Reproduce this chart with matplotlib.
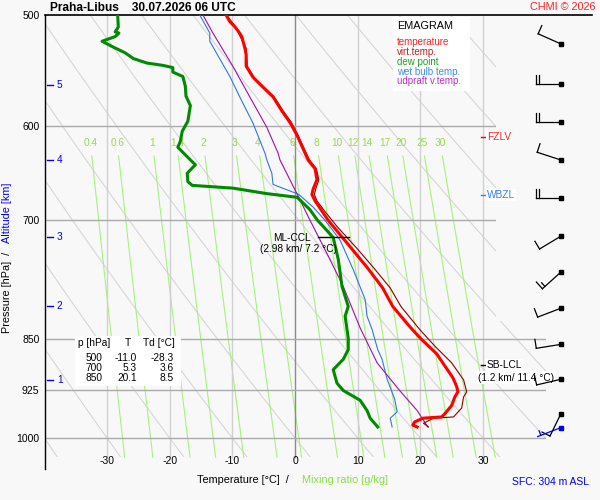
import numpy as np
import matplotlib
matplotlib.use('Agg')
import matplotlib.pyplot as plt
from matplotlib.patches import Polygon
from matplotlib.ticker import NullLocator, NullFormatter

plt.rcParams['font.family'] = ['Liberation Sans', 'DejaVu Sans']

# ---------------- data ----------------
station = "Praha-Libus"
date_str = "30.07.2026 06 UTC"

t_p = [500, 505.5, 509.7, 513.8, 518, 527.8, 533.5, 543.6, 546.4, 553.7, 562.8, 571.8, 585.1, 596.3,
       608.6, 615.6, 634.1, 643, 655, 665, 671, 678, 700, 707, 731, 756, 782, 806, 833, 850, 871,
       906, 919, 927, 935, 948, 961, 966, 968, 974, 979, 982]
t_T = [-11.0, -10.4, -9.6, -9.0, -8.5, -8.0, -7.8, -7.8, -7.5, -6.7, -5.1, -3.5, -2.1, -0.8,
       0.3, 0.8, 2.1, 3.2, 3.5, 2.9, 2.7, 3.2, 5.3, 6.1, 8.8, 11.5, 14.0, 15.6, 18.3, 20.1, 22.6,
       25.2, 25.8, 26.0, 25.5, 25.0, 23.9, 23.4, 20.4, 19.1, 18.8, 19.5]

tv_p = [500, 510, 528, 544, 554, 563, 572, 585, 596, 609, 616, 634, 643, 655, 665, 671, 678, 690,
        707, 733, 757, 782, 806, 837, 860, 884, 909, 927, 935, 952, 966, 968, 976, 982]
tv_T = [-10.9, -9.5, -7.8, -7.6, -6.5, -4.9, -3.3, -1.9, -0.6, 0.5, 1.0, 2.3, 3.4, 3.8, 3.3, 3.1,
        3.5, 4.8, 6.7, 9.9, 12.6, 15.2, 16.9, 19.9, 22.3, 25.0, 26.9, 27.4, 26.9, 26.6, 25.3, 22.1,
        20.5, 21.3]

td_p = [500, 510, 514, 515, 518, 522, 527, 532, 537, 541, 543, 545, 549, 553, 562, 571, 580, 595,
        605, 615, 621, 634, 639, 648, 657, 661, 664, 670, 674, 677, 688, 700, 707, 720, 746, 780,
        806, 819, 837, 850, 865, 879, 894, 914, 925, 940, 956, 968, 982]
td_T = [-28.3, -28.2, -28.7, -28.1, -28.7, -30.8, -29.0, -27.1, -25.8, -23.6, -21.1, -19.5, -19.5,
        -17.9, -17.5, -17.4, -16.7, -17.1, -18.0, -18.3, -18.7, -16.7, -15.9, -17.2, -17.1, -16.4,
        -9.9, -4.5, 0.3, 0.8, 2.4, 3.6, 4.5, 6.1, 6.9, 7.5, 8.5, 8.0, 8.3, 8.5, 8.5, 7.7, 6.1, 6.7,
        7.7, 10.4, 11.5, 12.0, 13.2]

wb_p = [500, 515, 522, 553, 572, 597, 627, 634, 648, 660, 670, 672, 685, 700, 723, 759, 797, 819,
        837, 865, 879, 908, 938, 958, 968, 982]
wb_T = [-15.2, -13.6, -13.6, -10.4, -8.8, -6.7, -4.8, -4.5, -3.7, -3.5, 0.3, 0.8, 2.9, 4.8, 7.2,
        9.3, 11.2, 11.5, 12.3, 13.2, 13.9, 14.7, 15.9, 16.3, 15.2, 15.5]

up_p = [500, 515, 544, 572, 601, 627, 634, 670, 677, 700, 739, 780, 835, 884, 894, 925, 956, 982]
up_T = [-14.7, -13.1, -9.9, -7.2, -4.5, -2.7, -2.4, 0.3, 0.8, 2.4, 5.1, 7.7, 10.4, 13.1, 14.0,
        16.7, 19.5, 21.2]

wind_p = [524.3, 559.8, 595.8, 634.1, 674.9, 718.3, 761.8, 808.3, 857.7, 908.2, 960.6]
wind_dir = [294, 270, 270, 288, 270, 239, 228, 249, 261, 257, 206]
wind_spd = [10, 20, 20, 10, 20, 10, 15, 10, 10, 10, 10]
sfc_wind_p, sfc_wind_dir, sfc_wind_spd = 983, 249, 5

alt_km = [1, 2, 3, 4, 5]
alt_p = [908.7, 806.0, 718.8, 634.1, 560.8]

p_ticks = [500, 600, 700, 850, 925, 1000]
t_ticks = [-30, -20, -10, 0, 10, 20, 30]
mix_ratios = [0.4, 0.6, 1, 1.4, 2, 3, 4, 6, 8, 10, 12, 14, 17, 20, 25, 30]

table_p = [500, 700, 850]
table_T = [-11.0, 5.3, 20.1]
table_Td = [-28.3, 3.6, 8.5]

fzlv_p = 611.0
wbzl_p = 671.5
ccl_p, ccl_T, ccl_km = 719.4, 7.2, 2.98
sblcl_p, sblcl_T, sblcl_km = 887.8, 11.4, 1.2
sfc_height = 304

# ---------------- figure ----------------
BG = '#f8f8f8'
W, H = 600, 500
fig = plt.figure(figsize=(6, 5), dpi=100, facecolor=BG)


def fx(x):
    return x / W


def fy(y):
    return 1 - y / H


ax = fig.add_axes([fx(45), fy(469), fx(592) - fx(45), fy(15) - fy(469)])
ax.set_facecolor(BG)
ax.set_yscale('log')
ax.set_xlim(-39.9, 47.4)
ax.set_ylim(1052, 500)
for s in ['right', 'bottom']:
    ax.spines[s].set_visible(False)
ax.spines['left'].set_color('black')
ax.spines['top'].set_color('black')
ax.spines['left'].set_linewidth(1.0)
ax.spines['top'].set_linewidth(1.2)
ax.yaxis.set_minor_locator(NullLocator())
ax.yaxis.set_minor_formatter(NullFormatter())
ax.set_yticks(p_ticks)
ax.set_yticklabels([str(p) for p in p_ticks])
ax.tick_params(axis='y', length=0, pad=4, labelsize=7.5)
ax.set_xticks([])

PBOT = 1032
clip = Polygon([(-40, 500), (32, 500), (32, 825), (40, 825), (40, PBOT), (-40, PBOT)],
               closed=True, transform=ax.transData, facecolor='none', edgecolor='none')

# dry adiabats
pp = np.geomspace(500, PBOT, 200)
for th in range(-40, 110, 10):
    T = (th + 273.15) * (pp / 1000.0) ** 0.2857 - 273.15
    ln, = ax.plot(T, pp, color='#d6d6d6', lw=0.8, zorder=1)
    ln.set_clip_path(clip)

# isotherms
for t in t_ticks:
    ax.plot([t, t], [500, PBOT], color='#8c8c8c' if t == 0 else '#d0d0d0',
            lw=1.0, zorder=1.5)
# isobars
for p in p_ticks[1:]:
    ln, = ax.plot([-40, 40], [p, p], color='#ababab', lw=1.0, zorder=1.5)
    ln.set_clip_path(clip)

# mixing ratio lines
pm = np.geomspace(630, PBOT, 100)
p_lab = 617.0
for w in mix_ratios:
    e = w * pm / (622.0 + w)
    a = np.log(e / 6.112)
    Td = 243.5 * a / (17.67 - a)
    ax.plot(Td, pm, color='#a6f27a', lw=0.8, zorder=1.2)
    e0 = w * p_lab / (622.0 + w)
    a0 = np.log(e0 / 6.112)
    ax.text(243.5 * a0 / (17.67 - a0), p_lab, '%g' % w, color='#9ad94f', fontsize=7.3,
            ha='center', va='center', zorder=2)

# profiles
ax.plot(wb_T, wb_p, color='#2f78e0', lw=0.8, zorder=3)
ax.plot(up_T, up_p, color='#a010a8', lw=0.8, zorder=3)
ax.plot(td_T, td_p, color='#008a00', lw=2.2, zorder=4)
ax.plot(tv_T, tv_p, color='#8b0000', lw=0.8, zorder=4)
ax.plot(t_T, t_p, color='#ff0000', lw=2.2, zorder=5)

# x tick labels inside the axes
for t in t_ticks:
    ax.text(t, 1037.6, str(t), fontsize=7.5, ha='center', va='center')

# altitude ticks
for km, p in zip(alt_km, alt_p):
    ax.plot([-39.6, -38.7], [p, p], color='#0000ee', lw=1.0, clip_on=False, zorder=6)
    ax.text(-38.0, p, str(km), color='#0000ee', fontsize=7.3, ha='left', va='center')

# levels
box = dict(facecolor='white', edgecolor='none', pad=0.8)
ax.plot([29.7, 30.5], [fzlv_p, fzlv_p], color='#ff0000', lw=1.0, zorder=6)
ax.text(30.6, fzlv_p, 'FZLV', color='#ff2020', fontsize=7.3, ha='left', va='center', bbox=box, zorder=6)
ax.plot([29.7, 30.5], [wbzl_p, wbzl_p], color='#3c7ee8', lw=1.0, zorder=6)
ax.text(30.6, wbzl_p, 'WBZL', color='#3c7ee8', fontsize=7.3, ha='left', va='center', bbox=box, zorder=6)

ax.plot([ccl_T - 3.5, ccl_T + 1.4], [ccl_p, ccl_p], color='black', lw=1.0, zorder=6)
ax.text(-0.5, 720.4, 'ML-CCL', fontsize=7.3, ha='center', va='center', zorder=6)
ax.text(0.5, 733.6, '(%.2f km/ %.1f °C)' % (ccl_km, ccl_T), fontsize=7.3, ha='center', va='center', zorder=6)

ax.plot([29.7, 30.5], [sblcl_p, sblcl_p], color='black', lw=1.0, zorder=6)
ax.text(30.6, sblcl_p, 'SB-LCL', fontsize=7.3, ha='left', va='center', bbox=box, zorder=6)
ax.text(35.3, 905.6, '(%.1f km/ %.1f °C)' % (sblcl_km, sblcl_T), fontsize=7.3, ha='center',
        va='center', bbox=box, zorder=6)


# wind barbs
def draw_barb(p, d, s, color, xst=42.45, L=25.0, bl=9.0, sp=3.4):
    a = ax.transData.transform((xst, p))
    r = np.deg2rad(d)
    u = np.array([np.sin(r), np.cos(r)])
    perp = np.array([u[1], -u[0]])
    end = a + L * u
    segs = [[a, end]]
    nfull = int(s // 10)
    half = (s % 10) >= 5
    k = 0
    for i in range(nfull):
        b = end - k * sp * u
        segs.append([b, b + bl * perp])
        k += 1
    if half:
        if nfull == 0:
            k = 1
        b = end - k * sp * u
        segs.append([b, b + 0.55 * bl * perp])
    inv = ax.transData.inverted()
    for sg in segs:
        pts = inv.transform(np.array(sg))
        ax.plot(pts[:, 0], pts[:, 1], color=color, lw=0.9, clip_on=False, zorder=7)
    ax.plot([xst], [p], marker='s', ms=2.6, color=color, clip_on=False, zorder=7)


for p, d, s in zip(wind_p, wind_dir, wind_spd):
    draw_barb(p, d, s, 'black')
draw_barb(sfc_wind_p, sfc_wind_dir, sfc_wind_spd, '#0000ee')

# legend
ax.text(fx(395 - 45) / (fx(592) - fx(45)) * 0 + 0, 0, '', transform=ax.transAxes)
lx, ly0 = 397, 26
fig.patches.append(plt.Rectangle((fx(393), fy(91)), fx(470) - fx(393), fy(17) - fy(91),
                                 transform=fig.transFigure, facecolor='white', edgecolor='none', zorder=8))
fig.text(fx(lx), fy(ly0), 'EMAGRAM', fontsize=7.8, ha='left', va='center', zorder=9)
leg_items = [('temperature', '#ff2020'), ('virt.temp.', '#b22222'), ('dew point', '#22a022'),
             ('wet bulb temp.', '#3c8ce8'), ('udpraft v.temp.', '#b432c8')]
for i, (lab, col) in enumerate(leg_items):
    fig.text(fx(lx), fy(42.3 + 9.8 * i), lab, color=col, fontsize=7.0, ha='left', va='center', zorder=9)

# table
fig.patches.append(plt.Rectangle((fx(75), fy(386)), fx(181) - fx(75), fy(336) - fy(386),
                                 transform=fig.transFigure, facecolor='white', edgecolor='none', zorder=8))
fig.text(fx(78), fy(343), 'p [hPa]', fontsize=7.3, ha='left', va='center', zorder=9)
fig.text(fx(127.5), fy(343), 'T', fontsize=7.3, ha='center', va='center', zorder=9)
fig.text(fx(143), fy(343), 'Td [°C]', fontsize=7.3, ha='left', va='center', zorder=9)
for i, (p, t, td) in enumerate(zip(table_p, table_T, table_Td)):
    yy = fy(358 + 10 * i)
    fig.text(fx(102), yy, str(p), fontsize=7.3, ha='right', va='center', zorder=9)
    fig.text(fx(137), yy, '%.1f' % t, fontsize=7.3, ha='right', va='center', zorder=9)
    fig.text(fx(174), yy, '%.1f' % td, fontsize=7.3, ha='right', va='center', zorder=9)

# titles and labels
fig.text(fx(50), fy(8), station + '    ' + date_str, fontsize=8.6, fontweight='bold',
         ha='left', va='center')
fig.text(fx(596), fy(7), 'CHMI © 2026', fontsize=7.8, color='#ff2020', ha='right', va='center')
fig.text(fx(289), fy(480), 'Temperature [°C]  /', fontsize=7.8, ha='right', va='center')
fig.text(fx(302), fy(480), 'Mixing ratio [g/kg]', fontsize=7.8, color='#88dd44', ha='left', va='center')
fig.text(fx(7), fy(333), 'Pressure [hPa]  /', fontsize=7.8, rotation=90, ha='center', va='bottom')
fig.text(fx(7), fy(183), 'Altitude [km]', fontsize=7.8, rotation=90, color='#0000ee',
         ha='center', va='top')
fig.text(fx(589), fy(482), 'SFC: %d m ASL' % sfc_height, fontsize=7.5, color='#0000ee',
         ha='right', va='center')

fig.savefig('out.png', dpi=100, facecolor=BG)
